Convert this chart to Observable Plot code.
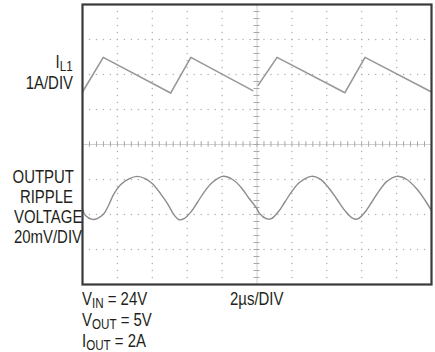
<!DOCTYPE html>
<html>
<head>
<meta charset="utf-8">
<script src="https://cdn.jsdelivr.net/npm/d3@7"></script>
<script src="https://cdn.jsdelivr.net/npm/@observablehq/plot@0.6"></script>
<style>
  body { margin: 0; background: #fff; }
  #wrap { position: relative; width: 435px; height: 352px; background: #fff; overflow: hidden;
          font-family: "Liberation Sans", Arial, sans-serif;
          color: #231f20; font-size: 18px; }
  #chart { position: absolute; left: 0; top: 0; }
  .lbl { position: absolute; white-space: nowrap; line-height: 20.3px; }
  .lbl span { display: inline-block; transform: scaleX(0.83); }
  .r { text-align: right; }
  .r span { transform-origin: right center; }
  .l span { transform-origin: left center; }
  .lbl sub { font-size: 14px; vertical-align: -3px; line-height: 0; }
</style>
</head>
<body>
<div id="wrap">
  <div id="chart"></div>
  <div class="lbl r" style="left:0;width:73px;top:52px;"><span>I<sub>L1</sub></span><br><span style="position:relative;top:1px;">1A/DIV</span></div>
  <div class="lbl r" style="left:0;width:73px;top:166.6px;"><span>OUTPUT</span><br><span>RIPPLE</span><br><span>VOLTAGE</span><br><span>20mV/DIV</span></div>
  <div class="lbl l" style="left:82px;top:289px;line-height:21px;"><span>V<sub>IN</sub> = 24V</span><br><span>V<sub>OUT</sub> = 5V</span><br><span>I<sub>OUT</sub> = 2A</span></div>
  <div class="lbl l" style="left:230px;top:289px;line-height:21px;"><span>2µs/DIV</span></div>
</div>
<script>
// Time axis: 10 divisions x 2 µs; vertical: 8 divisions
const timeDivs = [0, 2, 4, 6, 8, 10, 12, 14, 16, 18, 20];
const vertDivs = [-4, -3, -2, -1, 0, 1, 2, 3, 4];

// Inductor current trace (1A/DIV), time in µs, value in divisions
const ilTime  = [0, 1.19, 5.05, 6.21, 9.76, 9.9, 10.06, 11.15, 15.04, 16.19, 20];
const ilValue = [1.50, 2.49, 1.47, 2.49, 1.54, NaN, 1.69, 2.49, 1.48, 2.49, 1.50];

// Output ripple voltage trace (20mV/DIV), time in µs, value in divisions
const rippleTime = [0, 0.17, 0.56, 0.84, 1.22, 1.51, 1.80, 2.18, 2.66, 3.14, 3.62, 4.01, 4.48, 4.87, 5.25, 5.53,
  5.82, 6.21, 6.59, 6.97, 7.45, 8.03, 8.60, 9.08, 9.56, 9.94, 10.16, 10.53, 10.82, 11.21, 11.59, 11.97,
  12.45, 13.12, 13.60, 14.08, 14.56, 15.04, 15.52, 15.80, 16.19, 16.57, 16.95, 17.43, 18.01, 18.58,
  19.16, 19.64, 20];
const rippleValue = [-1.84, -2.03, -2.14, -2.12, -1.98, -1.72, -1.41, -1.15, -0.98, -0.91, -0.98, -1.12, -1.41, -1.69, -2.01, -2.15,
  -2.12, -1.93, -1.65, -1.36, -1.08, -0.91, -1.00, -1.22, -1.55, -1.79, -1.98, -2.12, -2.12, -1.93, -1.65, -1.36,
  -1.08, -0.91, -0.98, -1.22, -1.55, -1.89, -2.12, -2.12, -1.93, -1.65, -1.36, -1.06, -0.91, -1.00,
  -1.27, -1.60, -1.89];

const il = ilTime.map((t, i) => ({t, v: ilValue[i]}));
const ripple = rippleTime.map((t, i) => ({t, v: rippleValue[i]}));

const xMinor = d3.range(0, 20.0001, 0.4);
const yMinor = d3.range(-4, 4.0001, 0.2);
const innerX = timeDivs.filter(d => d !== 10 && d !== 0 && d !== 20);
const innerY = vertDivs.filter(d => d !== 0 && d !== -4 && d !== 4);
const gridDots = [
  ...innerX.flatMap(x => yMinor.map(y => ({x, y}))),
  ...innerY.flatMap(y => xMinor.map(x => ({x, y})))
];

const chart = Plot.plot({
  width: 435,
  height: 288,
  marginLeft: 82,
  marginRight: 4,
  marginTop: 4,
  marginBottom: 4,
  x: {domain: [0, 20], axis: null},
  y: {domain: [-4, 4], axis: null},
  marks: [
    Plot.dot(gridDots, {x: "x", y: "y", r: 0.75, fill: "#b0b0b0", stroke: null}),
    Plot.ruleY([0], {stroke: "#d0d0d0", strokeWidth: 1}),
    Plot.ruleX([10], {stroke: "#d0d0d0", strokeWidth: 1}),
    Plot.ruleX(xMinor, {x: d => d, y1: -0.08, y2: 0.08, stroke: "#a8a8a8", strokeWidth: 1}),
    Plot.ruleY(yMinor, {y: d => d, x1: 9.83, x2: 10.17, stroke: "#a8a8a8", strokeWidth: 1}),
    Plot.line(il, {x: "t", y: "v", stroke: "#989898", strokeWidth: 1.6, curve: "linear"}),
    Plot.line(ripple, {x: "t", y: "v", stroke: "#8c8c8c", strokeWidth: 1.4, curve: "catmull-rom"}),
    Plot.frame({stroke: "#3a3a3a", strokeWidth: 2.2})
  ]
});
document.getElementById("chart").appendChild(chart);
</script>
</body>
</html>
